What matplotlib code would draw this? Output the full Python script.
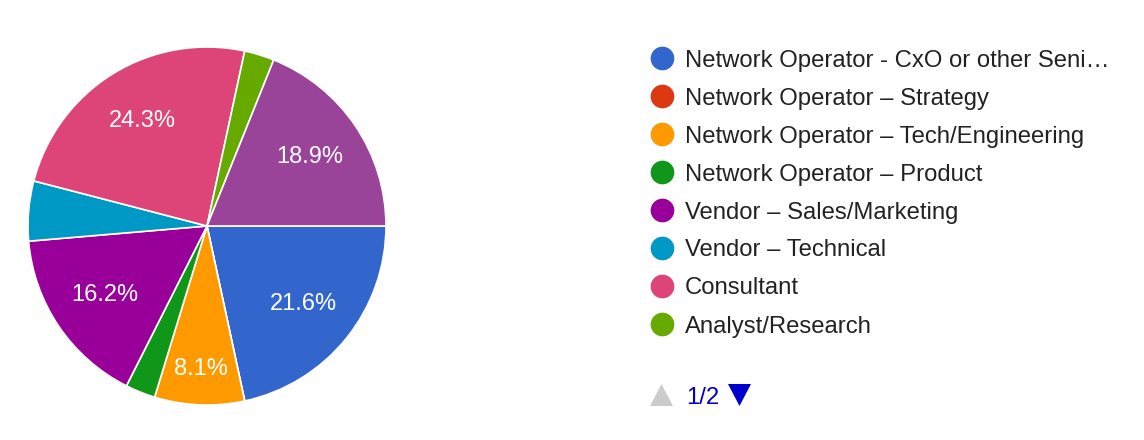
import numpy as np
import matplotlib.pyplot as plt
from matplotlib.patches import Polygon

plt.rcParams['font.family'] = ['Liberation Sans', 'DejaVu Sans']

# Slices in drawing order (clockwise from 3 o'clock) (%)
labels = ["Network Operator - CxO or other Seni\u2026",
          "Network Operator \u2013 Strategy",
          "Network Operator \u2013 Tech/Engineering",
          "Network Operator \u2013 Product",
          "Vendor \u2013 Sales/Marketing",
          "Vendor \u2013 Technical",
          "Consultant",
          "Analyst/Research",
          "Other"]
values = [21.6, 0.0, 8.1, 2.7, 16.2, 5.4, 24.3, 2.7, 18.9]
colors = ["#3366cc", "#dc3912", "#ff9900", "#109618", "#990099",
          "#0099c6", "#dd4477", "#66aa00", "#994499"]
n_legend = 8          # items shown on legend page 1
page_text = "1/2"

W, H = 1144, 440
fig = plt.figure(figsize=(W / 100, H / 100), dpi=100)

# pie area: centre (207, 226) px, radius 179 px
cx, cy, r = 207, 226, 179
ax = fig.add_axes([(cx - r) / W, (H - cy - r) / H, 2 * r / W, 2 * r / H])


def pct_label(p):
    return "%.1f%%" % p if p >= 7 else ""


wedges, texts, autotexts = ax.pie(
    values, colors=colors, startangle=0, counterclock=False,
    autopct=pct_label, pctdistance=0.69,
    wedgeprops=dict(edgecolor="white", linewidth=1.2),
    textprops=dict(color="white", fontsize=17))
ax.set_xlim(-1, 1)
ax.set_ylim(-1, 1)

# narrow slices get their label pushed further out
for w, t, v in zip(wedges, autotexts, values):
    if 0 < v < 10:
        ang = np.deg2rad((w.theta1 + w.theta2) / 2)
        t.set_position((0.8 * np.cos(ang), 0.8 * np.sin(ang)))

# legend drawn on an overlay axes in pixel coordinates
lg = fig.add_axes([0, 0, 1, 1])
lg.set_xlim(0, W)
lg.set_ylim(H, 0)
lg.axis("off")
lg.patch.set_alpha(0)

y0, step = 58, 38
for i in range(n_legend):
    y = y0 + i * step
    lg.scatter([662], [y], s=23 ** 2 * 0.55, color=colors[i], marker="o", linewidths=0)
    lg.text(685, y, labels[i], fontsize=17.2, color="#222222", va="center_baseline", ha="left")

# pagination
py = 395
lg.add_patch(Polygon([[650, py + 11], [673, py + 11], [661.5, py - 11]], closed=True,
                     facecolor="#cccccc", edgecolor="none"))
lg.add_patch(Polygon([[728, py - 11], [751, py - 11], [739.5, py + 11]], closed=True,
                     facecolor="#0000cc", edgecolor="none"))
lg.text(686, py, page_text, fontsize=17.2, color="#0000cc", va="center_baseline", ha="left")

fig.savefig("out.png", dpi=100, facecolor="white")
